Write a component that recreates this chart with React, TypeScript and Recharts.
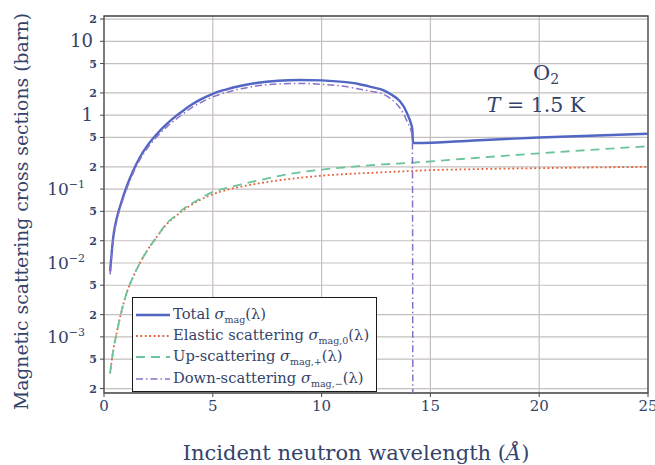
import {
  LineChart,
  Line,
  XAxis,
  YAxis,
  CartesianGrid,
  ReferenceArea,
  Legend,
} from 'recharts'

// Incident wavelength (Å) sampled for every curve
const wavelengths = [
  0.28, 0.43, 0.6, 0.75, 1.05, 1.35, 1.65, 2, 2.4, 2.9, 3.3, 3.65, 4, 4.4, 5, 5.6, 6.3, 7, 8, 9,
  10, 11, 11.7, 12.3, 12.8, 13.2, 13.6, 13.8, 13.95, 14.08, 14.17, 14.2, 14.3, 17, 20, 25,
]

// Cross sections in barn
const total = [
  0.0077, 0.023, 0.042, 0.06, 0.11, 0.18, 0.27, 0.39, 0.543, 0.767, 0.97, 1.16, 1.37, 1.61, 1.95,
  2.22, 2.5, 2.73, 2.93, 3.0, 2.96, 2.82, 2.64, 2.4, 2.2, 1.9, 1.55, 1.27, 1.02, 0.82, 0.64, 0.42,
  0.42, 0.455, 0.5, 0.56,
]
const elastic = [
  3.2e-4, 6.7e-4, 0.0012, 0.0019, 0.004, 0.0066, 0.01, 0.015, 0.022, 0.034, 0.043, 0.052, 0.061,
  0.071, 0.085, 0.097, 0.108, 0.118, 0.131, 0.142, 0.152, 0.159, 0.163, 0.166, 0.169, 0.171,
  0.173, 0.174, 0.175, 0.175, 0.176, 0.176, 0.177, 0.186, 0.192, 0.2,
]
const upScattering = [
  3.2e-4, 6.7e-4, 0.0012, 0.0019, 0.004, 0.0066, 0.01, 0.015, 0.022, 0.035, 0.044, 0.054, 0.063,
  0.074, 0.092, 0.103, 0.116, 0.129, 0.15, 0.168, 0.184, 0.196, 0.204, 0.211, 0.216, 0.219,
  0.222, 0.224, 0.225, 0.227, 0.228, 0.228, 0.229, 0.263, 0.305, 0.38,
]
// down-scattering closes at the threshold; 1e-6 stands in for zero on the log axis
const downScattering = [
  0.007, 0.021, 0.039, 0.056, 0.102, 0.167, 0.25, 0.36, 0.5, 0.7, 0.88, 1.05, 1.25, 1.46, 1.77,
  2.02, 2.28, 2.48, 2.65, 2.69, 2.62, 2.46, 2.27, 2.1, 1.95, 1.65, 1.25, 1.0, 0.8, 0.66, 0.5,
  1e-6, null, null, null, null,
]

const xTicks = [0, 5, 10, 15, 20, 25]
const yTicks = [
  2e-4, 5e-4, 1e-3, 2e-3, 5e-3, 0.01, 0.02, 0.05, 0.1, 0.2, 0.5, 1, 2, 5, 10, 20,
]

const seriesNames = ['Total', 'Elastic scattering', 'Up-scattering', 'Down-scattering']
const seriesSubscripts = ['mag', 'mag,0', 'mag,+', 'mag,\u2212']

const data = wavelengths.map((lambda, i) => ({
  lambda,
  total: total[i],
  elastic: elastic[i],
  up: upScattering[i],
  down: downScattering[i],
}))

const INK = '#34436a'
const FONT = '"DejaVu Serif", "Liberation Serif", serif'

const styles = [
  { key: 'total', color: '#5266c4', width: 2.4, dash: undefined },
  { key: 'elastic', color: '#e6603a', width: 1.8, dash: '1.8 2.6' },
  { key: 'up', color: '#6cc49a', width: 1.8, dash: '9 6' },
  { key: 'down', color: '#8a70c8', width: 1.5, dash: '7 3 1.5 3' },
]

function YTick({ x, y, payload }: any) {
  const v = payload.value as number
  const exp = Math.floor(Math.log10(v) + 1e-9)
  const mant = Math.round(v / Math.pow(10, exp))
  if (mant !== 1) {
    return (
      <text x={x} y={y} dy={4} textAnchor="end" fontSize={11} fontWeight="bold" fill={INK} fontFamily={FONT}>
        {mant}
      </text>
    )
  }
  if (exp >= 0) {
    return (
      <text x={x - 4} y={y} dy={6} textAnchor="end" fontSize={18} fill={INK} fontFamily={FONT}>
        {v}
      </text>
    )
  }
  return (
    <text x={x - 12} y={y} dy={6} textAnchor="end" fontSize={17} fill={INK} fontFamily={FONT}>
      10
      <tspan dy={-7} fontSize={11}>
        {'\u2212' + -exp}
      </tspan>
    </text>
  )
}

function YLabel({ viewBox }: any) {
  const cy = viewBox ? viewBox.y + viewBox.height / 2 + 7 : 211
  return (
    <text
      transform={`translate(21, ${cy}) rotate(-90)`}
      textAnchor="middle"
      dominantBaseline="central"
      fontSize={18.8}
      fill={INK}
      fontFamily={FONT}
    >
      Magnetic scattering cross sections (barn)
    </text>
  )
}

function XLabel({ viewBox }: any) {
  const cx = viewBox ? viewBox.x + viewBox.width / 2 - 20 : 356
  return (
    <text x={cx} y={460} textAnchor="middle" fontSize={21} fill={INK} fontFamily={FONT}>
      Incident neutron wavelength (<tspan fontStyle="italic">Å</tspan>)
    </text>
  )
}

// sample conditions written inside the upper right of the plot
function SampleNote({ viewBox }: any) {
  const { x, y, width } = viewBox
  const cx = x + width * 0.8125
  return (
    <g fill={INK} fontFamily={FONT}>
      <text x={cx} y={y + 64} textAnchor="middle" fontSize={21}>
        O
        <tspan fontSize={14} dy={4}>
          2
        </tspan>
      </text>
      <text x={cx - 10} y={y + 96} textAnchor="middle" fontSize={20.5}>
        <tspan fontStyle="italic">T</tspan> = 1.5 K
      </text>
    </g>
  )
}

function LegendBox() {
  return (
    <div
      style={{
        boxSizing: 'border-box',
        width: 245,
        height: 95,
        border: '1.5px solid #1a1a1a',
        background: '#fff',
        padding: '6px 0 0 3px',
        fontFamily: FONT,
        color: INK,
        fontSize: 14.7,
      }}
    >
      {styles.map((s, i) => (
        <div key={s.key} style={{ display: 'flex', alignItems: 'center', height: 21.3 }}>
          <svg width={34} height={6} style={{ marginRight: 3 }}>
            <line
              x1={0}
              y1={3}
              x2={34}
              y2={3}
              stroke={s.color}
              strokeWidth={s.width}
              strokeDasharray={s.dash}
            />
          </svg>
          <span style={{ whiteSpace: 'nowrap' }}>
            {seriesNames[i]} <i>σ</i>
            <sub style={{ fontSize: 9.5 }}>{seriesSubscripts[i]}</sub>(λ)
          </span>
        </div>
      ))}
    </div>
  )
}

export default function App() {
  return (
    <div style={{ position: 'absolute', left: 0, top: 0, width: 655, height: 465, background: '#fff' }}>
      <LineChart width={655} height={465} data={data} margin={{ top: 16, right: 7, bottom: 42, left: 44 }}>
        <CartesianGrid stroke="#c6bfbf" strokeWidth={1.2} />
        <XAxis
          dataKey="lambda"
          type="number"
          domain={[0, 25]}
          ticks={xTicks}
          interval={0}
          height={30}
          axisLine={false}
          tickSize={4}
          tickMargin={3}
          tickLine={{ stroke: '#4a4a4a' }}
          tick={{ fontSize: 15, fill: INK, fontFamily: FONT }}
          label={<XLabel />}
        />
        <YAxis
          type="number"
          scale="log"
          domain={[1.74e-4, 22]}
          allowDataOverflow
          ticks={yTicks}
          interval={0}
          width={60}
          axisLine={false}
          tickSize={4}
          tickMargin={3}
          tickLine={{ stroke: '#4a4a4a' }}
          tick={<YTick />}
          label={<YLabel />}
        />
        <ReferenceArea
          x1={0}
          x2={25}
          y1={1.74e-4}
          y2={22}
          fill="none"
          stroke="#4a4a4a"
          strokeWidth={1.3}
          label={<SampleNote />}
        />
        {styles.map((s) => (
          <Line
            key={s.key}
            dataKey={s.key}
            type="monotone"
            stroke={s.color}
            strokeWidth={s.width}
            strokeDasharray={s.dash}
            dot={false}
            activeDot={false}
            isAnimationActive={false}
          />
        ))}
        <Legend
          layout="vertical"
          align="center"
          verticalAlign="middle"
          content={<LegendBox />}
          wrapperStyle={{ left: 132, top: 297, width: 245 }}
        />
      </LineChart>
    </div>
  )
}
